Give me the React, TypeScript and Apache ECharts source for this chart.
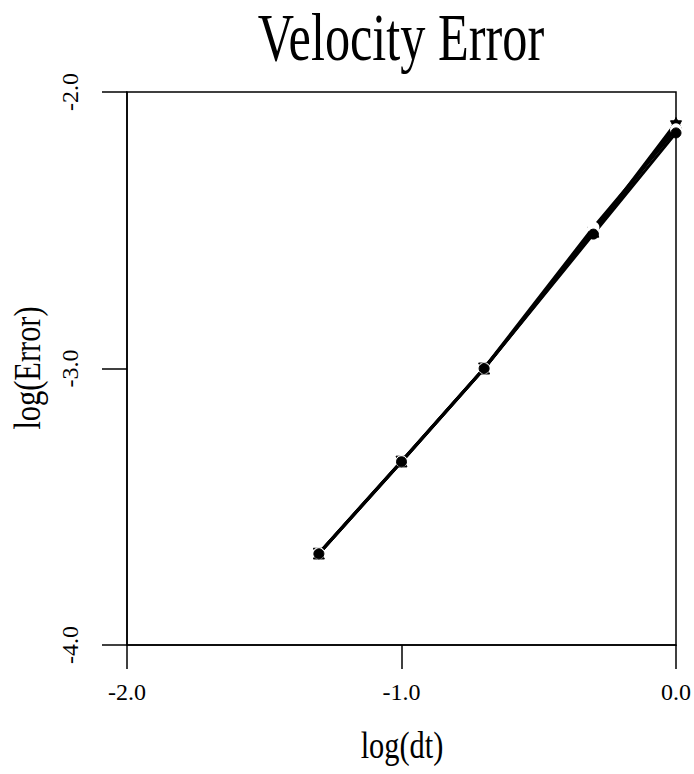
import React, { useEffect, useRef } from "react";
import * as echarts from "echarts";

const logDt = [-1.301, -1.0, -0.699, -0.301, 0.0];
const seriesFilled = [-3.67, -3.337, -3.0, -2.514, -2.148];
const seriesOpen = [-3.668, -3.335, -2.999, -2.49, -2.135];
const seriesTriangle = [-3.669, -3.336, -3.0, -2.505, -2.112];
const seriesInvTriangle = [-3.67, -3.337, -3.0, -2.508, -2.124];
const xTicks = [-2.0, -1.0, 0.0];
const yTicks = [-4.0, -3.0, -2.0];

const FONT = "'Liberation Serif', 'Times New Roman', serif";

function pairs(ys: number[]) {
  return logDt.map((x, i) => [x, ys[i]]);
}

export default function App() {
  const ref = useRef<HTMLDivElement>(null);
  useEffect(() => {
    if (!ref.current) return;
    const chart = echarts.init(ref.current, undefined, { renderer: "svg" });
    const lineStyle = { color: "#000", width: 3 };
    const base = {
      type: "line" as const,
      lineStyle,
      itemStyle: { color: "#000", borderColor: "#000" },
      symbolSize: 10,
      z: 3,
    };
    chart.setOption({
      animation: false,
      backgroundColor: "#fff",
      grid: {
        left: 127,
        right: 14,
        top: 92,
        bottom: 129,
        show: true,
        borderColor: "#000",
        borderWidth: 1.5,
        backgroundColor: "transparent",
      },
      xAxis: {
        type: "value",
        min: xTicks[0],
        max: xTicks[xTicks.length - 1],
        interval: 1,
        splitLine: { show: false },
        axisLine: { onZero: false, lineStyle: { color: "#000", width: 1.5 } },
        axisTick: { show: true, length: 24, inside: false, lineStyle: { color: "#000", width: 1.5 } },
        axisLabel: {
          margin: 35,
          fontFamily: FONT,
          fontSize: 24,
          color: "#000",
          formatter: (v: number) => v.toFixed(1),
        },
      },
      yAxis: {
        type: "value",
        min: yTicks[0],
        max: yTicks[yTicks.length - 1],
        interval: 1,
        splitLine: { show: false },
        axisLine: { onZero: false, lineStyle: { color: "#000", width: 1.5 } },
        axisTick: { show: true, length: 25, inside: false, lineStyle: { color: "#000", width: 1.5 } },
        axisLabel: {
          margin: 45,
          rotate: 90,
          fontFamily: FONT,
          fontSize: 24,
          color: "#000",
          formatter: (v: number) => v.toFixed(1),
        },
      },
      graphic: [
        {
          type: "text",
          x: 401,
          y: 37,
          scaleX: 0.74,
          style: {
            text: "Velocity Error",
            font: `68px ${FONT}`,
            fill: "#000",
            textAlign: "center",
            textVerticalAlign: "middle",
          },
        },
        {
          type: "text",
          x: 402,
          y: 745,
          scaleX: 0.8,
          style: {
            text: "log(dt)",
            font: `38px ${FONT}`,
            fill: "#000",
            textAlign: "center",
            textVerticalAlign: "middle",
          },
        },
        {
          type: "text",
          x: 27,
          y: 368,
          rotation: Math.PI / 2,
          scaleX: 0.8,
          style: {
            text: "log(Error)",
            font: `38px ${FONT}`,
            fill: "#000",
            textAlign: "center",
            textVerticalAlign: "middle",
          },
        },
      ],
      series: [
        { ...base, name: "D", symbol: "triangle", symbolRotate: 180, symbolSize: 11, data: pairs(seriesInvTriangle) },
        { ...base, name: "C", symbol: "triangle", symbolSize: 11, data: pairs(seriesTriangle) },
        {
          ...base,
          name: "B",
          symbol: "emptyCircle",
          itemStyle: { color: "#fff", borderColor: "#000", borderWidth: 2 },
          data: pairs(seriesOpen),
        },
        { ...base, name: "A", symbol: "circle", data: pairs(seriesFilled) },
      ],
    });
    return () => chart.dispose();
  }, []);
  return <div ref={ref} style={{ width: 694, height: 774, position: "absolute", left: 0, top: 0 }} />;
}
